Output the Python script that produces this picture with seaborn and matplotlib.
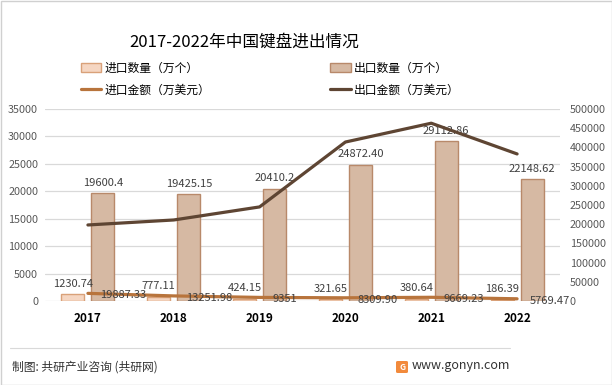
import numpy as np
import pandas as pd
import matplotlib
matplotlib.use("Agg")
import matplotlib.pyplot as plt
import matplotlib.patches as mpatches
import matplotlib.lines as mlines
import seaborn as sns

years = ["2017", "2018", "2019", "2020", "2021", "2022"]
import_qty = [1230.74, 777.11, 424.15, 321.65, 380.64, 186.39]
export_qty = [19600.4, 19425.15, 20410.2, 24872.40, 29112.86, 22148.62]
import_amt = [19887.33, 13251.98, 9351, 8309.90, 9669.23, 5769.47]
export_amt = [198000, 211000, 245000, 414000, 463000, 383000]
import_qty_labels = ["1230.74", "777.11", "424.15", "321.65", "380.64", "186.39"]
export_qty_labels = ["19600.4", "19425.15", "20410.2", "24872.40", "29112.86", "22148.62"]
import_amt_labels = ["19887.33", "13251.98", "9351", "8309.90", "9669.23", "5769.47"]

sns.set_theme(style="white")
plt.rcParams["font.family"] = ["Noto Sans CJK SC", "DejaVu Sans"]

W, H = 612, 385
fig = plt.figure(figsize=(W / 100, H / 100), dpi=100)

def fx(px):
    return px / W

def fy(py):
    return 1 - py / H

left, right, top, bottom = 45, 560, 109, 301
ax = fig.add_axes([fx(left), fy(bottom), fx(right - left), (bottom - top) / H])

c_imp_fill, c_imp_edge = "#F5D6C2", "#D9A179"
c_exp_fill, c_exp_edge = "#D6B9A3", "#B8896A"
c_imp_line = "#B8743C"
c_exp_line = "#5E4533"

names = ["进口数量（万个）", "出口数量（万个）", "进口金额（万美元）", "出口金额（万美元）"]
df = pd.DataFrame({
    "year": years * 2,
    "value": import_qty + export_qty,
    "series": [names[0]] * 6 + [names[1]] * 6,
})
sns.barplot(data=df, x="year", y="value", hue="series", order=years,
            hue_order=[names[0], names[1]],
            palette=[c_imp_fill, c_exp_fill], width=0.7, dodge=True,
            ax=ax, legend=False, saturation=1)

bw = 0.268
for i, p in enumerate(ax.patches):
    cx = p.get_x() + p.get_width() / 2
    p.set_x(cx - bw / 2)
    p.set_width(bw)
    if p.get_facecolor()[:3] == matplotlib.colors.to_rgb(c_imp_fill):
        p.set_edgecolor(c_imp_edge)
    else:
        p.set_edgecolor(c_exp_edge)
    p.set_linewidth(1.0)

ax.set_xlim(-0.5, 5.5)
ax.set_ylim(0, 35000)
ax.set_yticks(np.arange(0, 35001, 5000))
ax.yaxis.grid(True, color="#D9D9D9", linewidth=0.9)
ax.set_axisbelow(True)
for s in ax.spines.values():
    s.set_visible(False)
ax.set_xlabel("")
ax.set_ylabel("")
ax.tick_params(axis="y", labelsize=7.8, labelcolor="#595959", length=0, pad=5)
ax.tick_params(axis="x", labelsize=8.5, labelcolor="#000000", length=0, pad=8)
for t in ax.get_xticklabels():
    t.set_fontweight("bold")

pos = np.arange(len(years))
off = 0.175
for i in range(len(years)):
    ax.annotate(import_qty_labels[i], (pos[i] - off, import_qty[i]),
                xytext=(0, 4), textcoords="offset points", ha="center", va="bottom",
                fontsize=8, color="#404040")
    ax.annotate(export_qty_labels[i], (pos[i] + off, export_qty[i]),
                xytext=(0, 4), textcoords="offset points", ha="center", va="bottom",
                fontsize=8, color="#404040")

ax2 = ax.twinx()
ldf = pd.DataFrame({"x": list(pos) * 2, "v": import_amt + export_amt,
                    "s": [names[2]] * 6 + [names[3]] * 6})
sns.lineplot(data=ldf, x="x", y="v", hue="s", hue_order=[names[2], names[3]],
             palette=[c_imp_line, c_exp_line], linewidth=2.3, ax=ax2, legend=False)
ax2.set_ylim(0, 500000)
ax2.set_yticks(np.arange(0, 500001, 50000))
ax2.set_xlim(-0.5, 5.5)
for s in ax2.spines.values():
    s.set_visible(False)
ax2.set_xlabel("")
ax2.set_ylabel("")
ax2.grid(False)
ax2.tick_params(axis="y", labelsize=7.8, labelcolor="#595959", length=0, pad=7)
for i in range(len(years)):
    ax2.annotate(import_amt_labels[i], (pos[i], import_amt[i]),
                 xytext=(9, -1.5), textcoords="offset points", ha="left", va="center",
                 fontsize=8, color="#404040")

fig.text(fx(244), fy(42), "2017-2022年中国键盘进出情况", ha="center", va="center",
         fontsize=12, color="#000000")

handles = [
    mpatches.Patch(facecolor=c_imp_fill, edgecolor=c_imp_edge, label=names[0]),
    mlines.Line2D([], [], color=c_imp_line, linewidth=2.3, label=names[2]),
    mpatches.Patch(facecolor=c_exp_fill, edgecolor=c_exp_edge, label=names[1]),
    mlines.Line2D([], [], color=c_exp_line, linewidth=2.3, label=names[3]),
]
fig.legend(handles=handles, ncol=2, loc="center left",
           bbox_to_anchor=(fx(70), fy(79)), frameon=False, fontsize=8.5,
           handlelength=1.75, handleheight=0.75, handletextpad=0.25,
           columnspacing=10.2, labelspacing=0.75, labelcolor="#000000")

fig.add_artist(mlines.Line2D([fx(10), fx(510)], [fy(348), fy(348)],
                             color="#D9D9D9", linewidth=0.8))
fig.text(fx(12), fy(367), "制图: 共研产业咨询 (共研网)", ha="left", va="center",
         fontsize=8.5, color="#333333")
fig.add_artist(mpatches.FancyBboxPatch((fx(396), fy(373)), fx(12), 12 / H,
                                       boxstyle="round,pad=0,rounding_size=0.003",
                                       facecolor="#F28A3C", edgecolor="none"))
fig.text(fx(402), fy(367), "G", ha="center", va="center", fontsize=6,
         color="white", fontweight="bold")
fig.text(fx(510), fy(366), "www.gonyn.com", ha="right", va="center",
         fontsize=9, color="#333333")

fig.add_artist(mpatches.Rectangle((0.5 / W, 0.5 / H), 1 - 1 / W, 1 - 1 / H,
                                  fill=False, edgecolor="#D0D0D0", linewidth=1))

fig.savefig("out.png", dpi=100)
